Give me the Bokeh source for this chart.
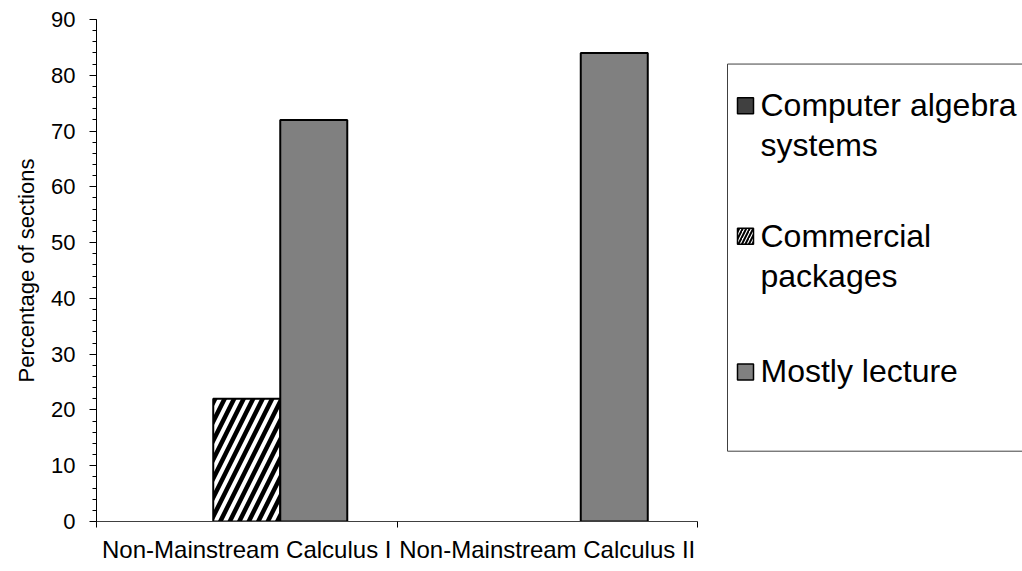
from bokeh.plotting import figure
from bokeh.models import Range1d, FixedTicker, SingleIntervalTicker, ColumnDataSource
from bokeh.embed import file_html
from bokeh.resources import INLINE
from bokeh.core.properties import value

# ---- data ----
categories = ["Non-Mainstream Calculus I", "Non-Mainstream Calculus II"]
series_names = ["Computer algebra systems", "Commercial packages", "Mostly lecture"]
legend_labels = ["Computer algebra\nsystems", "Commercial\npackages", "Mostly lecture"]
cas = [0, 0]
commercial = [22, 0]
lecture = [72, 84]
y_min, y_max, y_step = 0, 90, 10

# ---- layout ----
FONT = "Liberation Sans"
OFF = 0                              # page offset of the canvas
W, H = 1022, 565
FL, FT = 96, 19
frame_h = 507
FB = H - FT - frame_h
frame_w = W - FL
cat_px = 300.5                      # pixel width of one category
x_max = frame_w / cat_px
bar_w = 0.223

def px_x(page_x):
    return (page_x - OFF - FL) / cat_px

def px_y(page_y):
    return y_min + (y_max - y_min) * ((FT + frame_h) - (page_y - OFF)) / frame_h

p = figure(width=W, height=H, output_backend="svg", toolbar_location=None,
           x_range=Range1d(0, x_max), y_range=Range1d(y_min, y_max),
           min_border_left=FL, min_border_top=FT, min_border_bottom=FB,
           min_border_right=0)
p.outline_line_color = None
p.xgrid.grid_line_color = None
p.ygrid.grid_line_color = None
p.background_fill_color = "white"
p.border_fill_color = "white"

# ---- bars ----
series_vals = [cas, commercial, lecture]
fills = ["#404040", "white", "#808080"]
hatches = [None, "/", None]
for j, (vals, fc, hp) in enumerate(zip(series_vals, fills, hatches)):
    xs = [i + 0.5 + (j - 1) * bar_w for i in range(len(categories))]
    src = ColumnDataSource(dict(x=xs, top=vals,
                                la=[1.0 if v > 0 else 0.0 for v in vals],
                                fa=[1.0 if v > 0 else 0.0 for v in vals]))
    kw = dict(x="x", top="top", bottom=0, width=bar_w, source=src,
              fill_color=fc, fill_alpha="fa", line_color="black",
              line_alpha="la", line_width=2)
    if hp:
        kw.update(hatch_pattern=hp, hatch_color="black", hatch_weight=4.5,
                  hatch_scale=19, hatch_alpha="fa")
    p.vbar(**kw)

# ---- axes ----
ya = p.yaxis[0]
ya.ticker = SingleIntervalTicker(interval=y_step, num_minor_ticks=5)
ya.major_tick_out = 7
ya.major_tick_in = 0
ya.minor_tick_out = 4
ya.minor_tick_in = 0
ya.major_label_standoff = 14
ya.major_label_text_font = FONT
ya.major_label_text_font_size = "22px"
ya.major_label_text_color = "black"
ya.axis_label = "Percentage of sections"
ya.axis_label_text_font = FONT
ya.axis_label_text_font_size = "22px"
ya.axis_label_text_font_style = "normal"
ya.axis_label_text_color = "black"
ya.axis_label_standoff = 9
ya.axis_line_color = "black"
ya.major_tick_line_color = "black"
ya.minor_tick_line_color = "black"

xa = p.xaxis[0]
label_ticks = [i + 0.5 for i in range(len(categories))]
xa.ticker = FixedTicker(ticks=label_ticks,
                        minor_ticks=list(range(len(categories) + 1)))
xa.major_label_overrides = {t: c for t, c in zip(label_ticks, categories)}
xa.bounds = (0, len(categories))
xa.major_tick_out = 0
xa.major_tick_in = 0
xa.minor_tick_out = 6
xa.minor_tick_in = 0
xa.major_label_standoff = 8
xa.major_label_text_font = FONT
xa.major_label_text_font_size = "24px"
xa.major_label_text_color = "black"
xa.axis_line_color = "#404040"
xa.minor_tick_line_color = "black"

# ---- legend (drawn manually, box runs off the right edge) ----
p.quad(left=px_x(727), right=x_max + 0.5, top=px_y(64), bottom=px_y(455),
       fill_color=None, line_color="#404040", line_width=1)
entry_y = [106, 238, 375]
sw_x = px_x(745)
txt_x = px_x(760)
for k in range(len(series_names)):
    kw = dict(x=[sw_x], y=[px_y(entry_y[k])], marker="square", size=16,
              fill_color=fills[k], line_color="black", line_width=1.5)
    if hatches[k]:
        kw.update(hatch_pattern=hatches[k], hatch_color="black",
                  hatch_weight=2, hatch_scale=7)
    p.scatter(**kw)
p.text(x=[txt_x] * 3, y=[px_y(v - 19) for v in entry_y], text=legend_labels,
       text_font=value(FONT), text_font_size="32px", text_baseline="top",
       text_align="left", text_color="black", text_line_height=1.12)

open("out.html", "w").write(file_html(p, INLINE))
